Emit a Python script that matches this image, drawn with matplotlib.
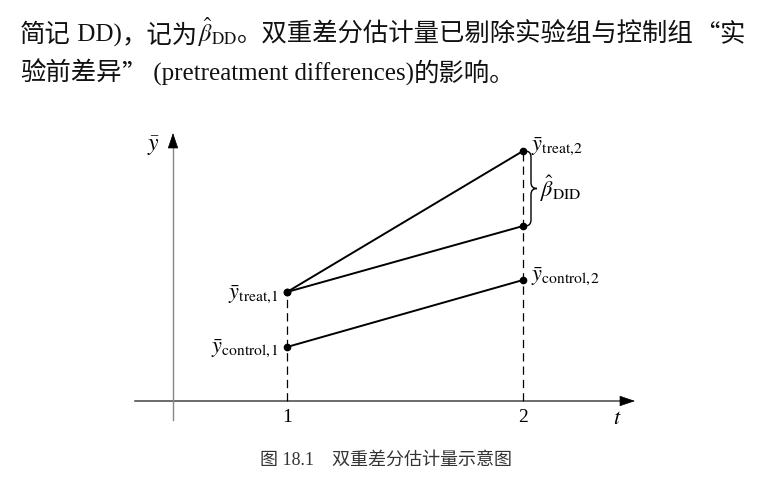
import matplotlib
matplotlib.use('Agg')
import matplotlib.pyplot as plt
from matplotlib.path import Path
from matplotlib.patches import PathPatch

plt.rcParams['mathtext.fontset'] = 'stix'
plt.rcParams['lines.scale_dashes'] = False
FAM = ['Liberation Serif', 'Noto Sans CJK SC']
CJK = ['Noto Sans CJK SC']

# dados do esquema
periodos = [1, 2]
tick_labels = ['1', '2']
controle = [1.08, 2.42]
tratado = [2.18, 5.0]
contrafactual = [2.18, 3.5]

# (texto, familia, tamanho)
linha1 = [('简记', FAM, 18.3), (' DD)', FAM, 18), ('，记为', FAM, 18.3),
          (r'$\hat{\beta}_{\mathrm{DD}}$', FAM, 17.5),
          ('。双重差分估计量已剔除实验组与控制组', FAM, 18.3), ('“', CJK, 18.3), ('实', FAM, 18.3)]
linha2 = [('验前差异', FAM, 18.3), ('”', CJK, 18.3),
          (' (pretreatment differences)', FAM, 18), ('的影响。', FAM, 18.3)]
legenda = '图 18.1    双重差分估计量示意图'

fig = plt.figure(figsize=(7.8, 4.8), dpi=100)
ax = fig.add_axes([0, 0, 1, 1])
# 236 px por periodo, 50 px por unidade de y
px, py = 1 / 236, 1 / 50
ax.set_xlim(1 - 287 * px, 1 + (780 - 287) * px)
ax.set_ylim(-79 * py, 401 * py)
ax.axis('off')

# eixos com seta
x_eixo_y = 1 - 114 * px
ax.plot([1 - 152 * px, 1 + 340 * px], [0, 0], color='#444', lw=1.1)
ax.annotate('', xy=(1 + 348 * px, 0), xytext=(1 + 334 * px, 0),
            arrowprops=dict(arrowstyle='-|>,head_length=0.5,head_width=0.17',
                            color='black', lw=0.5, mutation_scale=20, shrinkA=0, shrinkB=0))
ax.plot([x_eixo_y, x_eixo_y], [-19 * py, 260 * py], color='#888', lw=1.0)
ax.annotate('', xy=(x_eixo_y, 268 * py), xytext=(x_eixo_y, 254 * py),
            arrowprops=dict(arrowstyle='-|>,head_length=0.5,head_width=0.17',
                            color='black', lw=0.5, mutation_scale=20, shrinkA=0, shrinkB=0))
ax.text(x_eixo_y - 20 * px, 255 * py, r'$\bar{y}$', fontsize=17, ha='center', va='center')
ax.text(1 + 330 * px, -17 * py, r'$t$', fontsize=16, ha='center', va='center')
for p, lab in zip(periodos, tick_labels):
    ax.text(p, -17 * py, lab, fontsize=14, family=FAM, ha='center', va='center')

# linhas tracejadas
for p, v in zip(periodos, tratado):
    ax.plot([p, p], [0, v], color='black', lw=0.9, dashes=(6, 3.6))

# retas
ax.plot(periodos, tratado, color='black', lw=1.4, marker='o', ms=4.5)
ax.plot(periodos, contrafactual, color='black', lw=1.4, marker='o', ms=4.5)
ax.plot(periodos, controle, color='black', lw=1.4, marker='o', ms=4.5)

# rotulos dos pontos
kw = dict(textcoords='offset points', fontsize=16, va='center')
ax.annotate(r'$\bar{y}_{\mathrm{treat,\!2}}$', (periodos[1], tratado[1]), xytext=(6, 3), ha='left', **kw)
ax.annotate(r'$\bar{y}_{\mathrm{control,\!2}}$', (periodos[1], controle[1]), xytext=(6, 2), ha='left', **kw)
ax.annotate(r'$\bar{y}_{\mathrm{treat,\!1}}$', (periodos[0], tratado[0]), xytext=(-6, -2), ha='right', **kw)
ax.annotate(r'$\bar{y}_{\mathrm{control,\!1}}$', (periodos[0], controle[0]), xytext=(-6, -1), ha='right', **kw)

# chave do beta DID
x0 = periodos[1] + 2 * px
q, r = 6 * px, 6 * py
top, bot = tratado[1], contrafactual[1]
mid = (top + bot) / 2
verts = [(x0, top), (x0 + q, top), (x0 + q, top - r),
         (x0 + q, mid + r), (x0 + q, mid), (x0 + 2 * q, mid),
         (x0 + q, mid), (x0 + q, mid - r),
         (x0 + q, bot + r), (x0 + q, bot), (x0, bot)]
codes = [Path.MOVETO, Path.CURVE3, Path.CURVE3,
         Path.LINETO, Path.CURVE3, Path.CURVE3,
         Path.CURVE3, Path.CURVE3,
         Path.LINETO, Path.CURVE3, Path.CURVE3]
ax.add_patch(PathPatch(Path(verts, codes), fc='none', ec='black', lw=1.0))
ax.text(x0 + 2 * q + 3 * px, mid, r'$\hat{\beta}_{\mathrm{DID}}$', fontsize=16, ha='left', va='center')

# texto do livro, pedaco por pedaco
rend = fig.canvas.get_renderer()


def escreve(pedacos, y):
    x = 20 / 780
    for s, fam, tam in pedacos:
        t = fig.text(x, y, s, fontsize=tam, family=fam, color='#111', va='baseline')
        x = t.get_window_extent(rend).x1 / 780


escreve(linha1, 1 - 42 / 480)
escreve(linha2, 1 - 81 / 480)
fig.text(386 / 780, 1 - 460 / 480, legenda, fontsize=13, family=FAM, color='#333',
         ha='center', va='center')

fig.savefig('out.png', dpi=100)
